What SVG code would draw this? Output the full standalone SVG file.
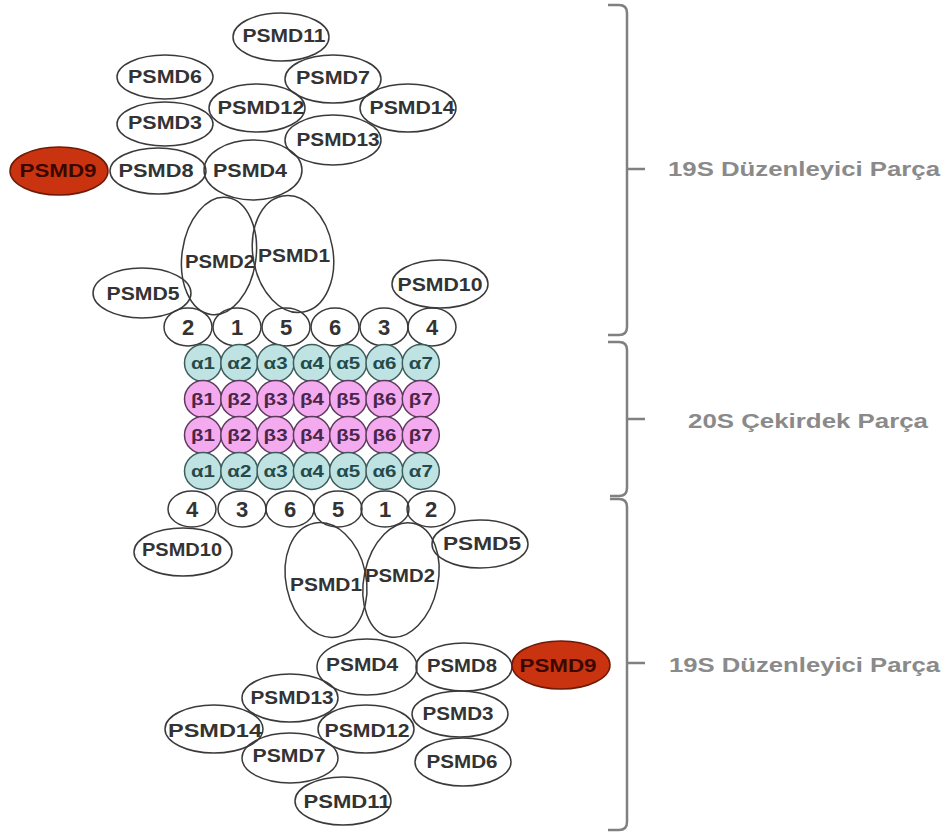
<svg xmlns="http://www.w3.org/2000/svg" width="946" height="834" viewBox="0 0 946 834">
<style>
.e{fill:none;stroke:#3a3a3a;stroke-width:1.5}
.red{fill:#c9330f;stroke:#6e1a08;stroke-width:1.5}
.a{fill:#bfe2e2;stroke:#3d5c5c;stroke-width:1.5}
.b{fill:#f3aaee;stroke:#5c3a5c;stroke-width:1.5}
.t{font-family:"Liberation Sans",Arial,sans-serif;font-weight:bold;font-size:18px;fill:#333;text-anchor:middle}
.tr{font-family:"Liberation Sans",Arial,sans-serif;font-weight:bold;font-size:18px;fill:#3a0800;text-anchor:middle}
.n{font-family:"Liberation Sans",Arial,sans-serif;font-weight:bold;font-size:22px;fill:#333;text-anchor:middle}
.ta{font-family:"Liberation Sans",Arial,sans-serif;font-weight:bold;font-size:17px;fill:#254a4a;text-anchor:middle}
.tb{font-family:"Liberation Sans",Arial,sans-serif;font-weight:bold;font-size:17px;fill:#4a2648;text-anchor:middle}
.br{fill:none;stroke:#808080;stroke-width:2.5}
.lab{font-family:"Liberation Sans",Arial,sans-serif;font-weight:bold;font-size:20px;fill:#8a8a8a}
</style>
<rect width="946" height="834" fill="#fff"/>
<g id="connectors"/>

<!-- Top 19S -->
<g id="t-PSMD11"><ellipse class="e" cx="281" cy="37" rx="48" ry="24"/><text class="t" x="284" y="42" textLength="83" lengthAdjust="spacingAndGlyphs">PSMD11</text></g>
<g id="t-PSMD6"><ellipse class="e" cx="165" cy="77" rx="48" ry="22"/><text class="t" x="165" y="83" textLength="74" lengthAdjust="spacingAndGlyphs">PSMD6</text></g>
<g id="t-PSMD7"><ellipse class="e" cx="333" cy="79" rx="48" ry="24"/><text class="t" x="333" y="84" textLength="74" lengthAdjust="spacingAndGlyphs">PSMD7</text></g>
<g id="t-PSMD12"><ellipse class="e" cx="257" cy="108" rx="48" ry="24"/><text class="t" x="261" y="114" textLength="87" lengthAdjust="spacingAndGlyphs">PSMD12</text></g>
<g id="t-PSMD14"><ellipse class="e" cx="408" cy="108" rx="48" ry="24"/><text class="t" x="412" y="114" textLength="85" lengthAdjust="spacingAndGlyphs">PSMD14</text></g>
<g id="t-PSMD3"><ellipse class="e" cx="165" cy="124" rx="48" ry="22"/><text class="t" x="165" y="129" textLength="74" lengthAdjust="spacingAndGlyphs">PSMD3</text></g>
<g id="t-PSMD13"><ellipse class="e" cx="333" cy="140" rx="48" ry="25"/><text class="t" x="338" y="146" textLength="83" lengthAdjust="spacingAndGlyphs">PSMD13</text></g>
<g id="t-PSMD9"><ellipse class="red" cx="59" cy="171" rx="49" ry="24"/><text class="tr" x="58" y="177" textLength="77" lengthAdjust="spacingAndGlyphs">PSMD9</text></g>
<g id="t-PSMD8"><ellipse class="e" cx="158" cy="171" rx="48" ry="23"/><text class="t" x="156" y="177" textLength="75" lengthAdjust="spacingAndGlyphs">PSMD8</text></g>
<g id="t-PSMD4"><ellipse class="e" cx="253" cy="170" rx="49" ry="30"/><text class="t" x="250" y="177" textLength="74" lengthAdjust="spacingAndGlyphs">PSMD4</text></g>
<g id="t-PSMD2"><ellipse class="e" cx="219" cy="256" rx="37" ry="59" transform="rotate(8 219 256)"/><text class="t" x="220" y="268" textLength="70" lengthAdjust="spacingAndGlyphs">PSMD2</text></g>
<g id="t-PSMD1"><ellipse class="e" cx="293" cy="254" rx="40" ry="59" transform="rotate(-10 293 254)"/><text class="t" x="294" y="262" textLength="72" lengthAdjust="spacingAndGlyphs">PSMD1</text></g>
<g id="t-PSMD5"><ellipse class="e" cx="142" cy="293" rx="49" ry="25"/><text class="t" x="143" y="300" textLength="73" lengthAdjust="spacingAndGlyphs">PSMD5</text></g>
<g id="t-PSMD10"><ellipse class="e" cx="440" cy="284" rx="48" ry="24"/><text class="t" x="440" y="291" textLength="85" lengthAdjust="spacingAndGlyphs">PSMD10</text></g>

<!-- top ring -->
<g id="tr-2"><ellipse class="e" cx="188" cy="327" rx="24" ry="19"/><text class="n" x="188" y="335">2</text></g>
<g id="tr-1"><ellipse class="e" cx="237" cy="327" rx="24" ry="19"/><text class="n" x="237" y="335">1</text></g>
<g id="tr-5"><ellipse class="e" cx="286" cy="327" rx="24" ry="19"/><text class="n" x="286" y="335">5</text></g>
<g id="tr-6"><ellipse class="e" cx="335" cy="327" rx="24" ry="19"/><text class="n" x="335" y="335">6</text></g>
<g id="tr-3"><ellipse class="e" cx="384" cy="327" rx="24" ry="19"/><text class="n" x="384" y="335">3</text></g>
<g id="tr-4"><ellipse class="e" cx="432" cy="327" rx="24" ry="19"/><text class="n" x="432" y="335">4</text></g>

<!-- 20S core -->
<g id="a1-1"><circle class="a" cx="203" cy="363" r="18.5"/><text class="ta" x="203" y="369" textLength="24" lengthAdjust="spacingAndGlyphs">α1</text></g>
<g id="a1-2"><circle class="a" cx="239.3" cy="363" r="18.5"/><text class="ta" x="239.3" y="369" textLength="24" lengthAdjust="spacingAndGlyphs">α2</text></g>
<g id="a1-3"><circle class="a" cx="275.6" cy="363" r="18.5"/><text class="ta" x="275.6" y="369" textLength="24" lengthAdjust="spacingAndGlyphs">α3</text></g>
<g id="a1-4"><circle class="a" cx="311.9" cy="363" r="18.5"/><text class="ta" x="311.9" y="369" textLength="24" lengthAdjust="spacingAndGlyphs">α4</text></g>
<g id="a1-5"><circle class="a" cx="348.2" cy="363" r="18.5"/><text class="ta" x="348.2" y="369" textLength="24" lengthAdjust="spacingAndGlyphs">α5</text></g>
<g id="a1-6"><circle class="a" cx="384.5" cy="363" r="18.5"/><text class="ta" x="384.5" y="369" textLength="24" lengthAdjust="spacingAndGlyphs">α6</text></g>
<g id="a1-7"><circle class="a" cx="420.8" cy="363" r="18.5"/><text class="ta" x="420.8" y="369" textLength="24" lengthAdjust="spacingAndGlyphs">α7</text></g>

<g id="b1-1"><circle class="b" cx="203" cy="399" r="18.5"/><text class="tb" x="203" y="405" textLength="24" lengthAdjust="spacingAndGlyphs">β1</text></g>
<g id="b1-2"><circle class="b" cx="239.3" cy="399" r="18.5"/><text class="tb" x="239.3" y="405" textLength="24" lengthAdjust="spacingAndGlyphs">β2</text></g>
<g id="b1-3"><circle class="b" cx="275.6" cy="399" r="18.5"/><text class="tb" x="275.6" y="405" textLength="24" lengthAdjust="spacingAndGlyphs">β3</text></g>
<g id="b1-4"><circle class="b" cx="311.9" cy="399" r="18.5"/><text class="tb" x="311.9" y="405" textLength="24" lengthAdjust="spacingAndGlyphs">β4</text></g>
<g id="b1-5"><circle class="b" cx="348.2" cy="399" r="18.5"/><text class="tb" x="348.2" y="405" textLength="24" lengthAdjust="spacingAndGlyphs">β5</text></g>
<g id="b1-6"><circle class="b" cx="384.5" cy="399" r="18.5"/><text class="tb" x="384.5" y="405" textLength="24" lengthAdjust="spacingAndGlyphs">β6</text></g>
<g id="b1-7"><circle class="b" cx="420.8" cy="399" r="18.5"/><text class="tb" x="420.8" y="405" textLength="24" lengthAdjust="spacingAndGlyphs">β7</text></g>

<g id="b2-1"><circle class="b" cx="203" cy="435" r="18.5"/><text class="tb" x="203" y="441" textLength="24" lengthAdjust="spacingAndGlyphs">β1</text></g>
<g id="b2-2"><circle class="b" cx="239.3" cy="435" r="18.5"/><text class="tb" x="239.3" y="441" textLength="24" lengthAdjust="spacingAndGlyphs">β2</text></g>
<g id="b2-3"><circle class="b" cx="275.6" cy="435" r="18.5"/><text class="tb" x="275.6" y="441" textLength="24" lengthAdjust="spacingAndGlyphs">β3</text></g>
<g id="b2-4"><circle class="b" cx="311.9" cy="435" r="18.5"/><text class="tb" x="311.9" y="441" textLength="24" lengthAdjust="spacingAndGlyphs">β4</text></g>
<g id="b2-5"><circle class="b" cx="348.2" cy="435" r="18.5"/><text class="tb" x="348.2" y="441" textLength="24" lengthAdjust="spacingAndGlyphs">β5</text></g>
<g id="b2-6"><circle class="b" cx="384.5" cy="435" r="18.5"/><text class="tb" x="384.5" y="441" textLength="24" lengthAdjust="spacingAndGlyphs">β6</text></g>
<g id="b2-7"><circle class="b" cx="420.8" cy="435" r="18.5"/><text class="tb" x="420.8" y="441" textLength="24" lengthAdjust="spacingAndGlyphs">β7</text></g>

<g id="a2-1"><circle class="a" cx="203" cy="471" r="18.5"/><text class="ta" x="203" y="477" textLength="24" lengthAdjust="spacingAndGlyphs">α1</text></g>
<g id="a2-2"><circle class="a" cx="239.3" cy="471" r="18.5"/><text class="ta" x="239.3" y="477" textLength="24" lengthAdjust="spacingAndGlyphs">α2</text></g>
<g id="a2-3"><circle class="a" cx="275.6" cy="471" r="18.5"/><text class="ta" x="275.6" y="477" textLength="24" lengthAdjust="spacingAndGlyphs">α3</text></g>
<g id="a2-4"><circle class="a" cx="311.9" cy="471" r="18.5"/><text class="ta" x="311.9" y="477" textLength="24" lengthAdjust="spacingAndGlyphs">α4</text></g>
<g id="a2-5"><circle class="a" cx="348.2" cy="471" r="18.5"/><text class="ta" x="348.2" y="477" textLength="24" lengthAdjust="spacingAndGlyphs">α5</text></g>
<g id="a2-6"><circle class="a" cx="384.5" cy="471" r="18.5"/><text class="ta" x="384.5" y="477" textLength="24" lengthAdjust="spacingAndGlyphs">α6</text></g>
<g id="a2-7"><circle class="a" cx="420.8" cy="471" r="18.5"/><text class="ta" x="420.8" y="477" textLength="24" lengthAdjust="spacingAndGlyphs">α7</text></g>

<!-- bottom ring -->
<g id="br-4"><ellipse class="e" cx="192" cy="509" rx="24" ry="18"/><text class="n" x="192" y="517">4</text></g>
<g id="br-3"><ellipse class="e" cx="242" cy="509" rx="24" ry="18"/><text class="n" x="242" y="517">3</text></g>
<g id="br-6"><ellipse class="e" cx="290" cy="509" rx="24" ry="18"/><text class="n" x="290" y="517">6</text></g>
<g id="br-5"><ellipse class="e" cx="338" cy="509" rx="24" ry="18"/><text class="n" x="338" y="517">5</text></g>
<g id="br-1"><ellipse class="e" cx="385" cy="509" rx="24" ry="18"/><text class="n" x="385" y="517">1</text></g>
<g id="br-2"><ellipse class="e" cx="431" cy="509" rx="24" ry="18"/><text class="n" x="431" y="517">2</text></g>

<!-- Bottom 19S -->
<g id="b-PSMD10"><ellipse class="e" cx="183" cy="552" rx="49" ry="24"/><text class="t" x="182" y="556" textLength="80" lengthAdjust="spacingAndGlyphs">PSMD10</text></g>
<g id="b-PSMD5"><ellipse class="e" cx="480" cy="544" rx="48" ry="24"/><text class="t" x="482" y="550" textLength="78" lengthAdjust="spacingAndGlyphs">PSMD5</text></g>
<g id="b-PSMD1"><ellipse class="e" cx="326" cy="580" rx="40" ry="58" transform="rotate(-12 326 580)"/><text class="t" x="326" y="591" textLength="72" lengthAdjust="spacingAndGlyphs">PSMD1</text></g>
<g id="b-PSMD2"><ellipse class="e" cx="401" cy="580" rx="37" ry="58" transform="rotate(12 401 580)"/><text class="t" x="400" y="582" textLength="70" lengthAdjust="spacingAndGlyphs">PSMD2</text></g>
<g id="b-PSMD4"><ellipse class="e" cx="367" cy="667" rx="50" ry="28"/><text class="t" x="362" y="671" textLength="72" lengthAdjust="spacingAndGlyphs">PSMD4</text></g>
<g id="b-PSMD8"><ellipse class="e" cx="464" cy="667" rx="48" ry="24"/><text class="t" x="462" y="672" textLength="70" lengthAdjust="spacingAndGlyphs">PSMD8</text></g>
<g id="b-PSMD9"><ellipse class="red" cx="561" cy="665" rx="49" ry="24"/><text class="tr" x="558" y="672" textLength="77" lengthAdjust="spacingAndGlyphs">PSMD9</text></g>
<g id="b-PSMD13"><ellipse class="e" cx="290" cy="698" rx="48" ry="24"/><text class="t" x="292" y="704" textLength="83" lengthAdjust="spacingAndGlyphs">PSMD13</text></g>
<g id="b-PSMD3"><ellipse class="e" cx="460" cy="714" rx="48" ry="23"/><text class="t" x="458" y="720" textLength="71" lengthAdjust="spacingAndGlyphs">PSMD3</text></g>
<g id="b-PSMD14"><ellipse class="e" cx="214" cy="729" rx="49" ry="24"/><text class="t" x="215" y="737" textLength="94" lengthAdjust="spacingAndGlyphs">PSMD14</text></g>
<g id="b-PSMD12"><ellipse class="e" cx="366" cy="729" rx="48" ry="24"/><text class="t" x="367" y="737" textLength="85" lengthAdjust="spacingAndGlyphs">PSMD12</text></g>
<g id="b-PSMD7"><ellipse class="e" cx="290" cy="758" rx="48" ry="25"/><text class="t" x="289" y="762" textLength="73" lengthAdjust="spacingAndGlyphs">PSMD7</text></g>
<g id="b-PSMD6"><ellipse class="e" cx="463" cy="762" rx="48" ry="24"/><text class="t" x="462" y="768" textLength="71" lengthAdjust="spacingAndGlyphs">PSMD6</text></g>
<g id="b-PSMD11"><ellipse class="e" cx="343" cy="801" rx="48" ry="24"/><text class="t" x="347" y="808" textLength="87" lengthAdjust="spacingAndGlyphs">PSMD11</text></g>

<!-- braces and labels -->
<g id="brace-top">
<path class="br" d="M608,5 H619 Q627,5 627,13 V327 Q627,335 619,335 H608 M627,169 H645"/>
<text class="lab" x="668" y="176" textLength="272" lengthAdjust="spacingAndGlyphs">19S Düzenleyici Parça</text>
</g>
<g id="brace-middle">
<path class="br" d="M608,342 H619 Q627,342 627,350 V488 Q627,496 619,496 H610 M627,419 H645"/>
<text class="lab" x="688" y="428" textLength="240" lengthAdjust="spacingAndGlyphs">20S Çekirdek Parça</text>
</g>
<g id="brace-bottom">
<path class="br" d="M610,499 H619 Q627,499 627,507 V822 Q627,830 619,830 H608 M627,663 H645"/>
<text class="lab" x="669" y="672" textLength="271" lengthAdjust="spacingAndGlyphs">19S Düzenleyici Parça</text>
</g>
</svg>
